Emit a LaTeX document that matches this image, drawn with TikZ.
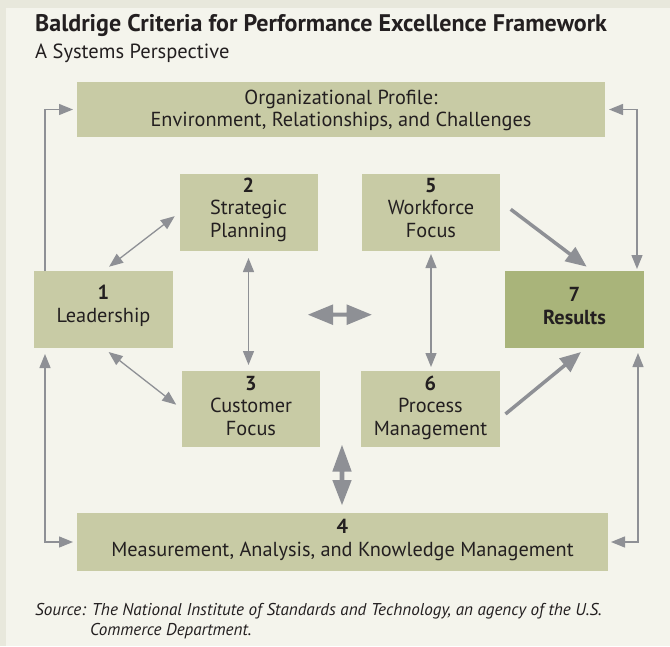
\documentclass[tikz,border=0pt]{standalone}
\usepackage{fontspec}
\setmainfont{PT Sans}
\usetikzlibrary{arrows.meta,calc}
\definecolor{bg}{HTML}{F4F4EC}
\definecolor{edgestrip}{HTML}{E8E8DC}
\definecolor{boxfill}{HTML}{C8CBA5}
\definecolor{resfill}{HTML}{A9B47A}
\definecolor{arrowgray}{HTML}{8E9095}
\definecolor{ink}{HTML}{231F20}
\begin{document}
\begin{tikzpicture}[x=1pt,y=-1pt,
  box/.style={fill=boxfill, draw=none, inner sep=0pt, outer sep=0pt},
  % multi-line labels: the base anchor sits on the baseline of the last line
  lbl/.style={anchor=base, align=center, text=ink, inner sep=0pt,
    font=\fontsize{20.3}{22.5}\selectfont},
  thinline/.style={draw=arrowgray, line width=1.3pt},
  thickline/.style={draw=arrowgray, line width=3.5pt},
  thintip/.tip={Triangle[length=14pt,width=11pt]},
  thicktip/.tip={Triangle[length=21pt,width=17pt]},
  fatarrow/.style={fill=arrowgray, draw=none}
]
% page and background
\fill[edgestrip] (0,0) rectangle (670,646);
\fill[bg] (6,8.3) rectangle (670,646);
\useasboundingbox (0,0) rectangle (670,646);

% heading
\node[anchor=base west, inner sep=0pt, text=ink, font=\fontsize{24}{27}\selectfont\bfseries] (title) at (35,31.7)
  {Baldrige Criteria for Performance Excellence Framework};
\node[anchor=base west, inner sep=0pt, text=ink, font=\fontsize{20.5}{23}\selectfont] (subtitle) at (35,58.3)
  {A Systems Perspective};

% boxes
\node[box, minimum width=528pt, minimum height=55pt] (b0) at (341,109.5) {};
\node[box, minimum width=138pt, minimum height=77pt] (b2) at (248.5,212.5) {};
\node[box, minimum width=138pt, minimum height=77pt] (b5) at (431,212.5) {};
\node[box, minimum width=139pt, minimum height=77pt] (b1) at (103.5,309.5) {};
\node[box, minimum width=139pt, minimum height=77pt, fill=resfill] (b7) at (574.5,309.5) {};
\node[box, minimum width=138.5pt, minimum height=76pt] (b3) at (251,409) {};
\node[box, minimum width=139pt, minimum height=76pt] (b6) at (430.5,409) {};
\node[box, minimum width=531pt, minimum height=58pt] (b4) at (342.5,542) {};

% box texts
\node[lbl] (t0) at (341,126.7) {Organizational Profile:\\Environment, Relationships, and Challenges};
\node[lbl] (t2) at (248.5,237) {\textbf{2}\\Strategic\\Planning};
\node[lbl] (t5) at (431,237) {\textbf{5}\\Workforce\\Focus};
\node[lbl] (t1) at (103.5,322.3) {\textbf{1}\\Leadership};
\node[lbl, font=\fontsize{20.3}{22.5}\selectfont\bfseries] (t7) at (574.5,324) {7\\Results};
\node[lbl] (t3) at (251,435.3) {\textbf{3}\\Customer\\Focus};
\node[lbl] (t6) at (430.5,435.3) {\textbf{6}\\Process\\Management};
\node[lbl] (t4) at (342.5,556) {\textbf{4}\\Measurement, Analysis, and Knowledge Management};

% links between the categories
\draw[thinline, thintip-thintip, shorten <=7pt, shorten >=6pt] (b1.north) -- (b2.west);
\draw[thinline, thintip-thintip, shorten <=6.5pt, shorten >=7pt] (b1.south) -- (b3.west);
\draw[thinline, thintip-thintip, shorten <=7pt, shorten >=6pt] (b2.south) -- (b2.south |- b3.north);
\draw[thinline, thintip-thintip, shorten <=3pt, shorten >=4pt] (b5.south) -- (b5.south |- b6.north);

% flows into results
\coordinate (o5) at ($(b5.east)+(10.7,-3.2)$);
\coordinate (i75) at ($(b7.north)+(12.2,-4.3)$);
\coordinate (o6) at ($(b6.east)+(5.5,5)$);
\coordinate (i76) at ($(b7.south)+(6.5,4)$);
\draw[thickline, -thicktip] (o5) -- (i75);
\draw[thickline, -thicktip] (o6) -- (i76);

% feedback loops around the frame
\draw[thinline, -thintip] ([xshift=11pt]b1.north west) |- ([xshift=-4pt]b0.west);
\draw[thinline, thintip-thintip] ([xshift=4pt]b0.east) -| ([xshift=-7pt,yshift=2pt]b7.north east);
\draw[thinline, thintip-thintip] ([xshift=11pt,yshift=-6pt]b1.south west) |- ([xshift=-4pt]b4.west);
\draw[thinline, thintip-thintip] ([xshift=-6pt,yshift=-5pt]b7.south east) |- ([xshift=3pt]b4.east);

% broad two-way arrows
\fill[fatarrow] (308,314.7) -- (333,304.4) -- (333,312.7) -- (346.7,312.7) -- (346.7,304.4)
  -- (371.7,314.7) -- (346.7,325) -- (346.7,316.7) -- (333,316.7) -- (333,325) -- cycle;
\fill[fatarrow] (342,445) -- (351.7,471.5) -- (344.4,471.5) -- (344.4,480) -- (351.7,480)
  -- (342,505) -- (332.3,480) -- (339.6,480) -- (339.6,471.5) -- (332.3,471.5) -- cycle;

% source note
\node[anchor=base west, inner sep=0pt, text=ink, font=\fontsize{17.1}{19}\selectfont\itshape] (src1) at (35,615.7)
  {Source: The National Institute of Standards and Technology, an agency of the U.S.};
\node[anchor=base west, inner sep=0pt, text=ink, font=\fontsize{17.1}{19}\selectfont\itshape] (src2) at (90,635)
  {Commerce Department.};
\end{tikzpicture}
\end{document}
